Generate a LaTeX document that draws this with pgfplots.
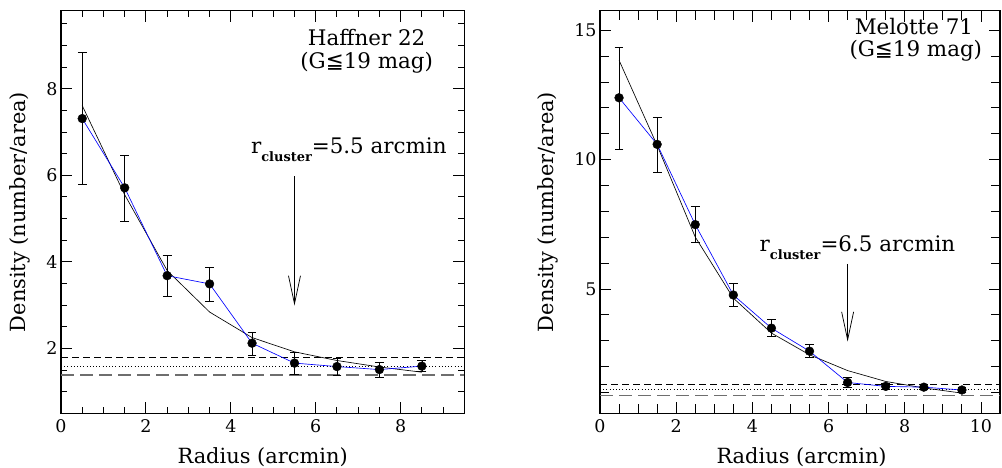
\documentclass[border=0pt]{standalone}
\usepackage{pgfplots}
\pgfplotsset{compat=1.18}
\usepackage{fontspec}
\setmainfont{DejaVu Serif}
\newfontfamily\dvs{DejaVu Sans}
\usetikzlibrary{arrows.meta}
\newcommand{\lfont}{\fontsize{21}{25}\selectfont}
\newcommand{\afont}{\fontsize{21.5}{25}\selectfont}
\newcommand{\tfont}{\fontsize{17.5}{20}\selectfont}
\newcommand{\rc}{r\raisebox{-0.35em}{\fontsize{13}{13}\selectfont\bfseries cluster}}
\definecolor{lgray}{RGB}{110,110,110}
\pgfplotsset{
  panel/.style={
    scale only axis, anchor=south west,
    axis line style={line width=1.4pt},
    tick style={black, line width=0.9pt},
    major tick length=11bp, minor tick length=6bp,
    tick align=inside,
    /pgf/number format/assume math mode=true,
    tick label style={font=\tfont},
    xticklabel style={yshift=-3bp},
    label style={font=\lfont},
    xlabel={Radius (arcmin)},
    ylabel={Density (number/area)},
    clip=true,
  },
  fitline/.style={black, line width=0.65pt, no marks},
  blueline/.style={blue, line width=0.65pt, no marks},
  datapts/.style={black, only marks, mark=*, mark size=4.4bp,
    error bars/.cd, y dir=both, y explicit,
    error bar style={black, line width=0.7pt},
    error mark options={rotate=90, mark size=4.4bp, black, line width=0.7pt}},
}
\begin{document}
\begin{tikzpicture}
\path[use as bounding box] (0,0) rectangle (1002bp,468bp);
% ---------------- Left panel ----------------
\begin{axis}[panel,
  at={(61bp,54.7bp)}, width=403.3bp, height=402.5bp,
  xmin=0, xmax=9.5, ymin=0.5, ymax=9.8,
  xtick={0,2,4,6,8},
  minor xtick={0.5,1,1.5,2.5,3,3.5,4.5,5,5.5,6.5,7,7.5,8.5,9},
  ytick={2,4,6,8},
  minor ytick={1,1.5,2.5,3,3.5,4.5,5,5.5,6.5,7,7.5,8.5,9,9.5},
  xlabel style={at={(axis description cs:0.5,-0.1086)}, anchor=center},
  ylabel style={at={(axis description cs:-0.103,0.5)}, anchor=center},
]
\addplot[black, dash pattern=on 7bp off 4bp, line width=0.75pt] coordinates {(0,1.79) (9.5,1.79)};
\addplot[black, dash pattern=on 1bp off 2.2bp, line width=0.75pt] coordinates {(0,1.58) (9.5,1.58)};
\addplot[lgray, dash pattern=on 13bp off 6bp, line width=1.6pt] coordinates {(0,1.39) (9.5,1.39)};
\addplot[fitline] coordinates {
(0.5,7.61) (1.5,5.55) (2.5,3.80) (3.5,2.84) (4.5,2.25) (5.5,1.92) (6.5,1.72) (7.5,1.57) (8.5,1.45)};
\addplot[blueline] coordinates {
(0.5,7.31) (1.5,5.71) (2.5,3.68) (3.5,3.49) (4.5,2.12) (5.5,1.66) (6.5,1.58) (7.5,1.51) (8.5,1.59)};
\addplot[datapts] coordinates {
(0.5,7.31) += (0,1.53) -= (0,1.51)
(1.5,5.71) += (0,0.76) -= (0,0.77)
(2.5,3.68) += (0,0.48) -= (0,0.48)
(3.5,3.49) += (0,0.38) -= (0,0.40)
(4.5,2.12) += (0,0.24) -= (0,0.29)
(5.5,1.66) += (0,0.25) -= (0,0.26)
(6.5,1.58) += (0,0.20) -= (0,0.21)
(7.5,1.51) += (0,0.17) -= (0,0.18)
(8.5,1.59) += (0,0.13) -= (0,0.13)};
\draw[line width=0.75pt, -{Straight Barb[length=28bp,width=12bp]}] (axis cs:5.5,5.98) -- (axis cs:5.5,2.99);
\node[anchor=base, font=\afont] at (axis cs:6.78,6.5) {\rc=5.5 arcmin};
\node[anchor=center, font=\afont] at (axis cs:7.2,9.19) {Haffner 22};
\node[anchor=center, font=\afont] at (axis cs:7.2,8.61) {(G{\dvs ≦}19 mag)};
\end{axis}
% ---------------- Right panel ----------------
\begin{axis}[panel,
  at={(600bp,54.7bp)}, width=400bp, height=402.5bp,
  xmin=0, xmax=10.5, ymin=0.2, ymax=15.75,
  xtick={0,2,4,6,8,10},
  minor xtick={0.5,1,1.5,2.5,3,3.5,4.5,5,5.5,6.5,7,7.5,8.5,9,9.5},
  ytick={5,10,15},
  minor ytick={1,2,3,4,6,7,8,9,11,12,13,14},
  minor tick length=9bp,
  xlabel style={at={(axis description cs:0.504,-0.1086)}, anchor=center},
  ylabel style={at={(axis description cs:-0.13,0.5)}, anchor=center},
]
\addplot[black, dash pattern=on 7bp off 4bp, line width=0.75pt] coordinates {(0,1.30) (10.5,1.30)};
\addplot[black, dash pattern=on 1bp off 2.2bp, line width=0.75pt] coordinates {(0,1.11) (10.5,1.11)};
\addplot[lgray, dash pattern=on 13bp off 6bp, line width=1.6pt] coordinates {(0,0.89) (10.5,0.89)};
\addplot[fitline] coordinates {
(0.5,13.84) (1.5,10.55) (2.5,7.01) (3.5,4.65) (4.5,3.30) (5.5,2.46) (6.5,1.85) (7.5,1.43) (8.5,1.18) (9.5,0.98)};
\addplot[blueline] coordinates {
(0.5,12.39) (1.5,10.59) (2.5,7.49) (3.5,4.77) (4.5,3.49) (5.5,2.60) (6.5,1.39) (7.5,1.24) (8.5,1.21) (9.5,1.10)};
\addplot[datapts] coordinates {
(0.5,12.39) += (0,1.96) -= (0,1.98)
(1.5,10.59) += (0,1.06) -= (0,1.07)
(2.5,7.49) += (0,0.69) -= (0,0.67)
(3.5,4.77) += (0,0.45) -= (0,0.45)
(4.5,3.49) += (0,0.33) -= (0,0.32)
(5.5,2.60) += (0,0.26) -= (0,0.24)
(6.5,1.39) += (0,0.19) -= (0,0.18)
(7.5,1.24) += (0,0.12) -= (0,0.11)
(8.5,1.21) += (0,0.10) -= (0,0.10)
(9.5,1.10) += (0,0.10) -= (0,0.10)};
\draw[line width=0.75pt, -{Straight Barb[length=28bp,width=12bp]}] (axis cs:6.5,5.97) -- (axis cs:6.5,2.97);
\node[anchor=base, font=\afont] at (axis cs:6.76,6.45) {\rc=6.5 arcmin};
\node[anchor=center, font=\afont] at (axis cs:8.24,15.15) {Melotte 71};
\node[anchor=center, font=\afont] at (axis cs:8.29,14.19) {(G{\dvs ≦}19 mag)};
\end{axis}
\end{tikzpicture}
\end{document}
